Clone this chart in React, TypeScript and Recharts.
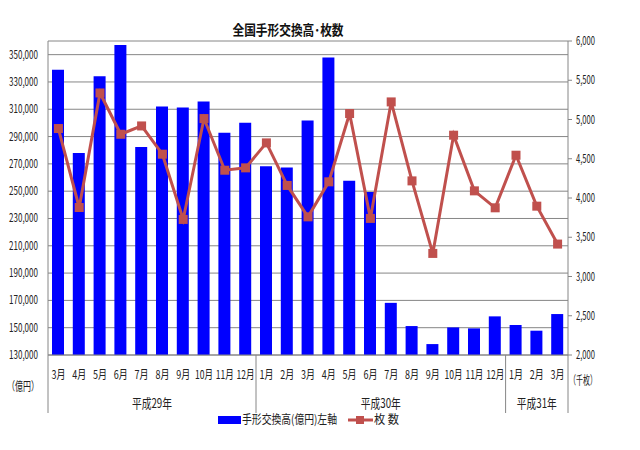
import React from "react";
import { ComposedChart, Bar, Line, XAxis, YAxis, CartesianGrid } from "recharts";

const months = [
    "3月", "4月", "5月", "6月", "7月", "8月", "9月", "10月", "11月", "12月",
    "1月", "2月", "3月", "4月", "5月", "6月", "7月", "8月", "9月", "10月", "11月", "12月",
    "1月", "2月", "3月",
];

// 手形交換高 (億円), left axis
const amounts = [
    339000, 278000, 334200, 357100, 282300, 312000, 311300, 315700, 292800, 300100,
    268200, 267400, 301800, 348000, 257700, 249400, 168200, 151200, 138000, 150200, 149500, 158300,
    151900, 147800, 160000,
];

// 枚数 (千枚), right axis
const counts = [
    4885, 3879, 5338, 4812, 4918, 4558, 3727, 5012, 4354, 4384,
    4702, 4160, 3760, 4206, 5076, 3740, 5224, 4218, 3294, 4800, 4091, 3875,
    4545, 3896, 3413,
];

const leftTicks = [130000, 150000, 170000, 190000, 210000, 230000, 250000, 270000, 290000, 310000, 330000, 350000];
const rightTicks = [2000, 2500, 3000, 3500, 4000, 4500, 5000, 5500, 6000];

const yearGroups = [
    { label: "平成29年", start: 0, end: 9 },
    { label: "平成30年", start: 10, end: 21 },
    { label: "平成31年", start: 22, end: 24 },
];

const data = months.map((m, i) => ({ month: m, amount: amounts[i], count: counts[i] }));

const W = 640;
const H = 450;
const PLOT_LEFT = 48;
const PLOT_RIGHT = 568;
const PLOT_BOTTOM = 355;
const BW = (PLOT_RIGHT - PLOT_LEFT) / months.length;
const FONT = "'Noto Sans CJK JP', 'Noto Sans', sans-serif";
const AXIS = "#868686";
const RED = "#C0504D";

const fmt = (v: number) => v.toLocaleString("en-US");

function MonthTick({ x, payload }: any) {
    const i = payload.index;
    const label = String(payload.value);
    const group = yearGroups.find((g) => g.start === i);
    return (
        <g>
            <text x={x} y={379} textAnchor="middle" fontSize={12} fontFamily={FONT} fill="#222"
                textLength={label.length > 2 ? 18 : 14} lengthAdjust="spacingAndGlyphs">
                {label}
            </text>
            {group && (
                <>
                    <line x1={x - BW / 2} x2={x - BW / 2} y1={PLOT_BOTTOM} y2={413} stroke={AXIS} />
                    <text x={x + ((group.end - group.start) / 2) * BW} y={408} textAnchor="middle" fontSize={13}
                        fontFamily={FONT} fill="#222" textLength={40} lengthAdjust="spacingAndGlyphs">
                        {group.label}
                    </text>
                </>
            )}
            {i === months.length - 1 && (
                <line x1={x + BW / 2} x2={x + BW / 2} y1={PLOT_BOTTOM} y2={413} stroke={AXIS} />
            )}
            {i === 0 && (
                <text x={23} y={391} textAnchor="middle" fontSize={12} fontFamily={FONT} fill="#222"
                    textLength={32} lengthAdjust="spacingAndGlyphs">（億円）</text>
            )}
            {i === months.length - 1 && (
                <text x={583} y={385} textAnchor="middle" fontSize={12} fontFamily={FONT} fill="#222"
                    textLength={28} lengthAdjust="spacingAndGlyphs">（千枚）</text>
            )}
        </g>
    );
}

function LeftTick({ x, y, payload }: any) {
    const s = fmt(payload.value);
    return (
        <text x={x - 2} y={y + 4} textAnchor="end" fontSize={12} fontFamily={FONT} fill="#222"
            textLength={29} lengthAdjust="spacingAndGlyphs">
            {s}
        </text>
    );
}

function RightTick({ x, y, payload }: any) {
    const s = fmt(payload.value);
    return (
        <text x={x + 2} y={y + 4} textAnchor="start" fontSize={12} fontFamily={FONT} fill="#222"
            textLength={19} lengthAdjust="spacingAndGlyphs">
            {s}
        </text>
    );
}

function SquareDot({ cx, cy }: any) {
    if (cx == null || cy == null) return null;
    return <rect x={cx - 4.5} y={cy - 4.5} width={9} height={9} fill={RED} />;
}

export default function App() {
    return (
        <div style={{ position: "relative", width: W, height: H, background: "#fff" }}>
            <style>{"body{margin:0}"}</style>
            <ComposedChart width={W} height={H} data={data} margin={{ top: 41, right: 20, bottom: 0, left: 0 }}>
                <CartesianGrid yAxisId="left" vertical={false} stroke={AXIS} strokeWidth={1} />
                <XAxis dataKey="month" interval={0} height={95} tickLine={false} axisLine={{ stroke: AXIS }}
                    tick={<MonthTick />} />
                <YAxis yAxisId="left" orientation="left" width={48} domain={[130000, 360000]} ticks={leftTicks}
                    interval={0} tickLine={false} axisLine={{ stroke: AXIS }} tick={<LeftTick />} />
                <YAxis yAxisId="right" orientation="right" width={52} domain={[2000, 6000]} ticks={rightTicks}
                    interval={0} tickSize={4} tickLine={{ stroke: AXIS }} axisLine={{ stroke: AXIS }} tick={<RightTick />} />
                <Bar yAxisId="left" dataKey="amount" fill="#0000FF" barSize={12} isAnimationActive={false} />
                <Line yAxisId="right" dataKey="count" type="linear" stroke={RED} strokeWidth={3}
                    dot={<SquareDot />} activeDot={false} isAnimationActive={false} />
            </ComposedChart>
            <svg width={W} height={H} style={{ position: "absolute", left: 0, top: 0, pointerEvents: "none" }}>
                <text x={288} y={35} textAnchor="middle" fontSize={14} fontWeight="bold" fontFamily={FONT} fill="#111"
                    textLength={111} lengthAdjust="spacingAndGlyphs">
                    全国手形交換高･枚数
                </text>
                <rect x={218} y={416} width={23} height={8} fill="#0000FF" />
                <text x={242} y={424} fontSize={12} fontFamily={FONT} fill="#222" textLength={95}
                    lengthAdjust="spacingAndGlyphs">
                    手形交換高(億円)左軸
                </text>
                <line x1={348} x2={373} y1={420} y2={420} stroke={RED} strokeWidth={3} />
                <rect x={356} y={416} width={8} height={8} fill={RED} />
                <text x={374} y={424} fontSize={12} fontFamily={FONT} fill="#222" textLength={25}
                    lengthAdjust="spacingAndGlyphs">
                    枚 数
                </text>
            </svg>
        </div>
    );
}
